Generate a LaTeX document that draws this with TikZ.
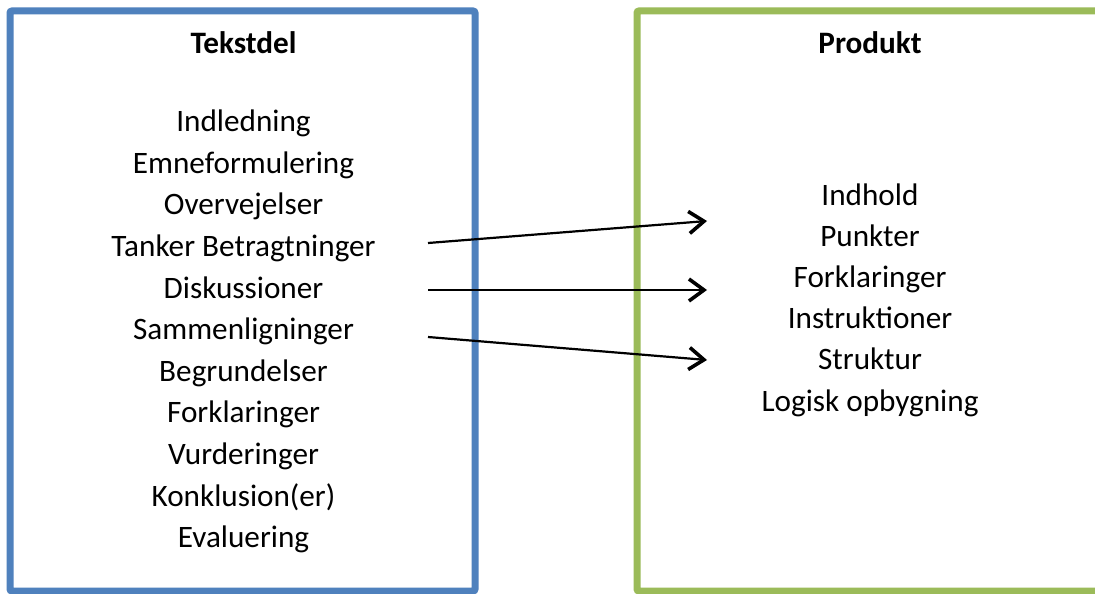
\documentclass[tikz,border=0pt]{standalone}
\usepackage{fontspec}
\setmainfont{Carlito}
\usetikzlibrary{arrows.meta}
\definecolor{boxblue}{HTML}{4F81BD}
\definecolor{boxgreen}{HTML}{9BBB59}
\tikzset{
  item/.style={anchor=base, inner sep=0pt, font=\fontsize{31.2}{36}\selectfont},
  heading/.style={item, font=\fontsize{31.2}{36}\selectfont\bfseries},
  frame/.style={line width=7pt, rounded corners=2pt},
  link/.style={line width=2.2pt, -{Straight Barb[length=15pt,width=22pt,line width=3.6pt]}}
}
\begin{document}
\begin{tikzpicture}[x=1pt,y=-1pt]
\useasboundingbox (0,0) rectangle (1095,594);
\clip (0,0) rectangle (1095,594);
\fill[white] (0,0) rectangle (1095,594);
\draw[frame, draw=boxblue] (10,11) rectangle (475,591);
\draw[frame, draw=boxgreen] (637,11) rectangle (1120,591);
% left column
\node[heading] (tekstdel) at (243.5,53.3) {Tekstdel};
\node[item] (l1) at (243.5,131.7) {Indledning};
\node[item] (l2) at (243.5,173.3) {Emneformulering};
\node[item] (l3) at (243.5,214.9) {Overvejelser};
\node[item] (l4) at (243.5,256.5) {Tanker Betragtninger};
\node[item] (l5) at (243.5,298.1) {Diskussioner};
\node[item] (l6) at (243.5,339.7) {Sammenligninger};
\node[item] (l7) at (243.5,381.3) {Begrundelser};
\node[item] (l8) at (243.5,422.9) {Forklaringer};
\node[item] (l9) at (243.5,464.5) {Vurderinger};
\node[item] (l10) at (243.5,506.1) {Konklusion(er)};
\node[item] (l11) at (243.5,547.7) {Evaluering};
% right column
\node[heading] (produkt) at (870,53.3) {Produkt};
\node[item] (r1) at (870,205) {Indhold};
\node[item] (r2) at (870,246.2) {Punkter};
\node[item] (r3) at (870,287.4) {Forklaringer};
\node[item] (r4) at (870,328.6) {Instruktioner};
\node[item] (r5) at (870,369.8) {Struktur};
\node[item] (r6) at (870,411) {Logisk opbygning};
% arrow end points
\coordinate (s1) at (428,243);
\coordinate (e1) at (707,221);
\coordinate (s2) at (428,290);
\coordinate (e2) at (707,290);
\coordinate (s3) at (428,337);
\coordinate (e3) at (707,360);
\draw[link] (s1) -- (e1);
\draw[link] (s2) -- (e2);
\draw[link] (s3) -- (e3);
\end{tikzpicture}
\end{document}
